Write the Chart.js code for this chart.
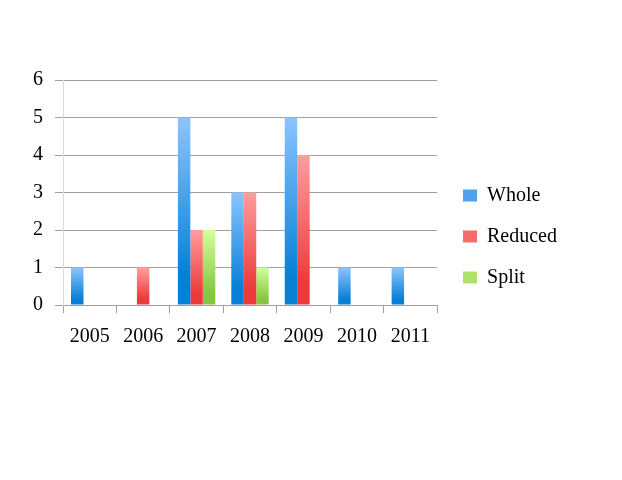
<!DOCTYPE html>
<html>
<head>
<meta charset="utf-8">
<script src="https://cdn.jsdelivr.net/npm/chart.js@4"></script>
<style>
html,body{margin:0;padding:0;background:#fff;}
#wrap{width:622px;height:480px;}
</style>
</head>
<body>
<div id="wrap"><canvas id="c"></canvas></div>
<script>
const categories = ['2005','2006','2007','2008','2009','2010','2011'];
const whole   = [1, 0, 5, 3, 5, 1, 1];
const reduced = [0, 1, 2, 3, 4, 0, 0];
const split   = [0, 0, 2, 1, 0, 0, 0];
const yTicks  = [0, 1, 2, 3, 4, 5, 6];

function grad(top, bottom) {
  return (ctx) => {
    const chart = ctx.chart;
    if (!chart.chartArea || ctx.type !== 'data' || !chart.scales.y) return bottom;
    const ys = chart.scales.y;
    const yTop = ys.getPixelForValue(ctx.parsed.y);
    const yBot = ys.getPixelForValue(0);
    if (!isFinite(yTop) || !isFinite(yBot) || Math.abs(yBot - yTop) < 1) return bottom;
    const g = chart.ctx.createLinearGradient(0, yTop, 0, yBot);
    g.addColorStop(0, top);
    g.addColorStop(0.85, bottom);
    g.addColorStop(1, bottom);
    return g;
  };
}

const FONT = {family: '"Liberation Serif", "Times New Roman", serif', size: 20};
const legendColors = ['#4ea2ec', '#f76a6a', '#aee26c'];

const legendShift = {
  id: 'legendShift',
  afterLayout(chart) {
    if (chart.legend) { chart.legend.left += 5; chart.legend.right += 5; }
  }
};

new Chart(document.getElementById('c'), {
  type: 'bar',
  data: {
    labels: categories,
    datasets: [
      {label: 'Whole', data: whole, backgroundColor: grad('#8cc4ff', '#0580d6')},
      {label: 'Reduced', data: reduced, backgroundColor: grad('#ff9e9e', '#ec3a3a')},
      {label: 'Split', data: split, backgroundColor: grad('#d2ff9c', '#86c63e')}
    ]
  },
  plugins: [legendShift],
  options: {
    responsive: true,
    maintainAspectRatio: false,
    animation: false,
    devicePixelRatio: 1,
    layout: {padding: {left: 32, top: 80, right: 60, bottom: 87}},
    datasets: {bar: {categoryPercentage: 0.7, barPercentage: 1.0, borderWidth: 0}},
    plugins: {
      tooltip: {enabled: false},
      legend: {
        position: 'right',
        labels: {
          font: FONT,
          color: '#000',
          boxWidth: 14,
          boxHeight: 12,
          padding: 21,
          generateLabels: (chart) => chart.data.datasets.map((ds, i) => ({
            text: ds.label,
            fillStyle: legendColors[i],
            strokeStyle: legendColors[i],
            lineWidth: 0,
            hidden: false,
            datasetIndex: i,
            fontColor: '#000'
          }))
        }
      }
    },
    scales: {
      x: {
        offset: true,
        grid: {display: true, drawOnChartArea: false, drawTicks: true, tickLength: 8, color: '#a0a0a0', offset: true},
        border: {display: true, color: '#a0a0a0'},
        ticks: {font: FONT, color: '#000', padding: 12, maxRotation: 0},
        afterFit: (s) => { s.height = 88; }
      },
      y: {
        min: 0,
        max: 6,
        afterBuildTicks: (s) => { s.ticks = yTicks.map(v => ({value: v})); },
        grid: {color: '#a0a0a0', tickLength: 8, drawTicks: true},
        border: {display: true, color: '#dcdcdc'},
        ticks: {font: FONT, color: '#000', padding: 12},
        afterFit: (s) => { s.width = 31; }
      }
    }
  }
});
</script>
</body>
</html>
